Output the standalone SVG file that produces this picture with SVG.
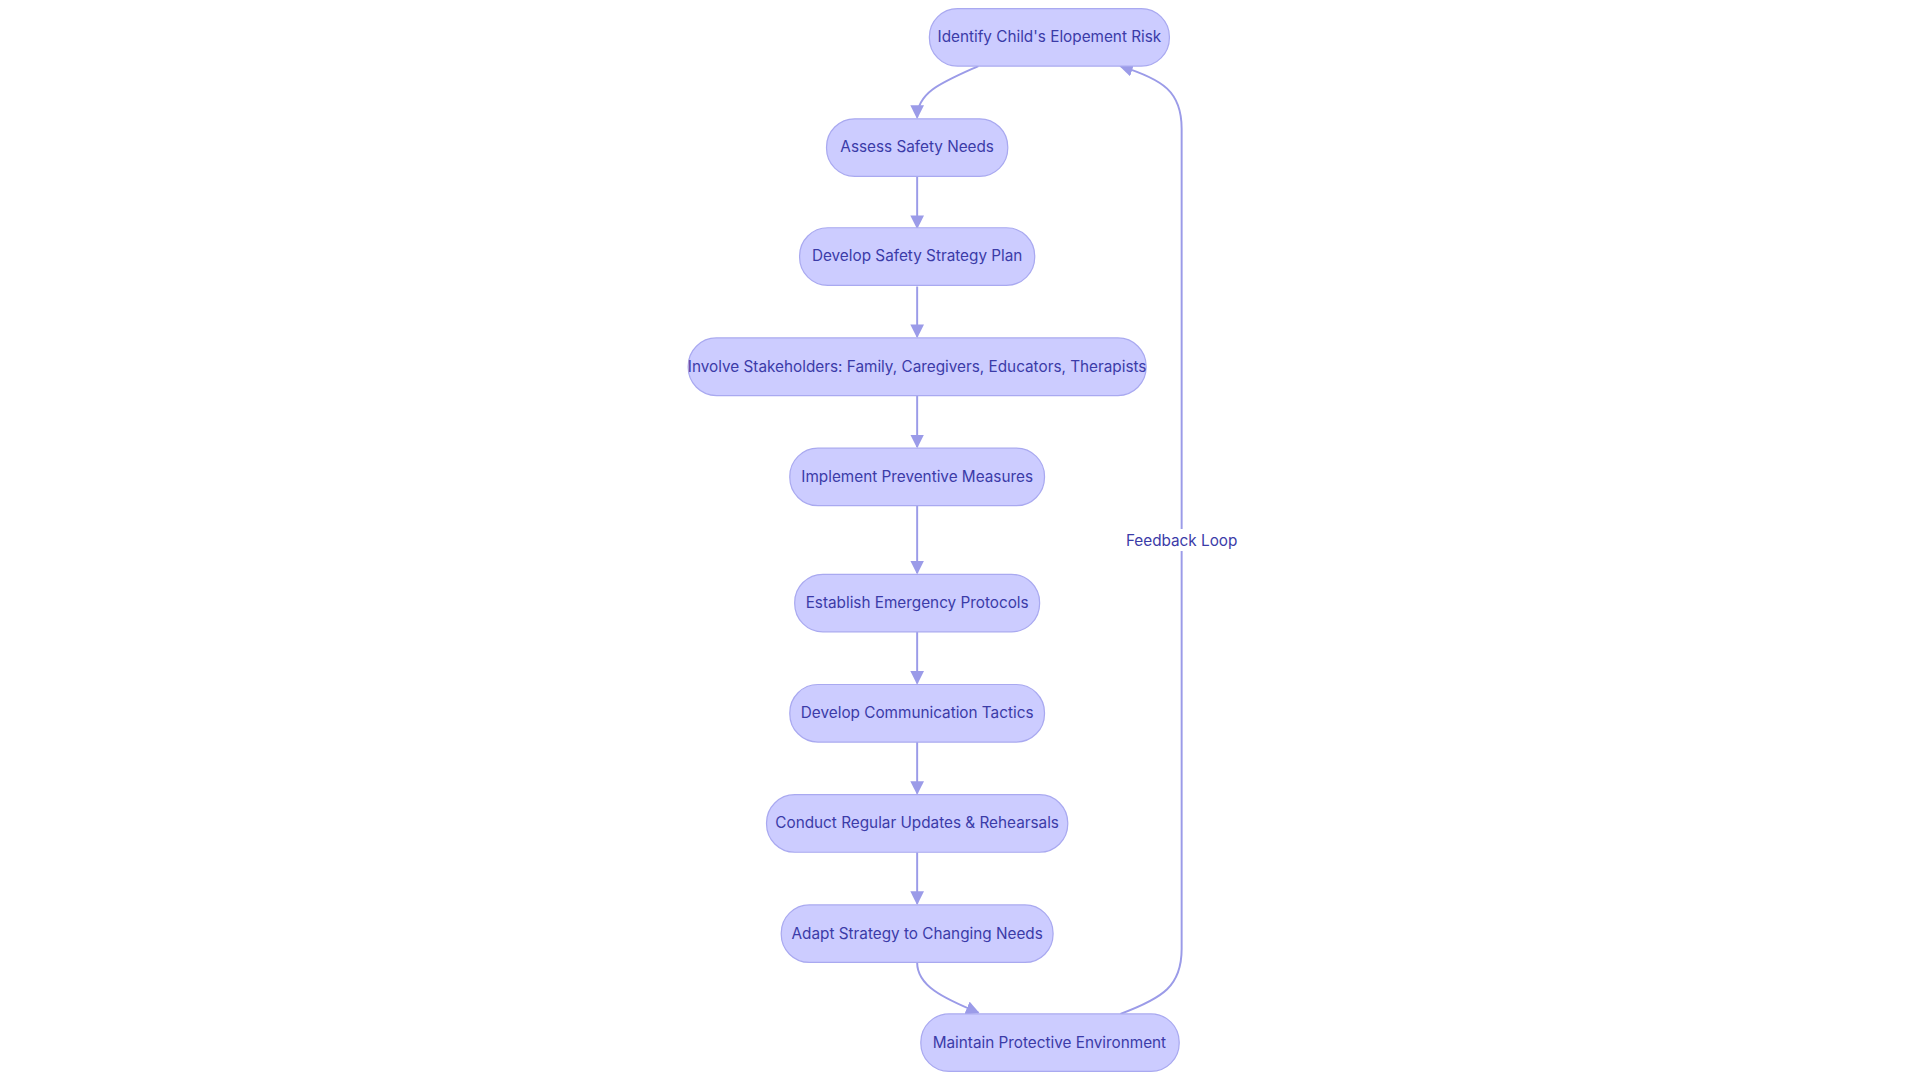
<svg xmlns="http://www.w3.org/2000/svg" width="1920" height="1080" viewBox="0 0 1920 1080">
<style>
.n rect{fill:#ccccff;stroke:#a9a9f0;stroke-width:1}
.n text,.l{font-family:Inter,"Noto Sans",sans-serif;font-size:12.5px;fill:#3b3ba8;text-anchor:middle;dominant-baseline:central}
.e{fill:none;stroke:#9b9be8;stroke-width:1.6}
</style>
<defs><marker id="a" viewBox="0 0 10 10" refX="9" refY="5" markerWidth="7" markerHeight="7" orient="auto-start-reverse"><path d="M0,0L10,5L0,10z" fill="#9b9be8"/></marker></defs>
<rect width="1920" height="1080" fill="#fff"/>
<g transform="scale(1.2245)">
<g id="connectors">
<path class="e" marker-end="url(#a)" d="M799,54 C770,67 749,75 749,96"/>
<path class="e" marker-end="url(#a)" d="M749,144V186"/>
<path class="e" marker-end="url(#a)" d="M749,234V275"/>
<path class="e" marker-end="url(#a)" d="M749,323V365"/>
<path class="e" marker-end="url(#a)" d="M749,413V468"/>
<path class="e" marker-end="url(#a)" d="M749,516V558"/>
<path class="e" marker-end="url(#a)" d="M749,606V648"/>
<path class="e" marker-end="url(#a)" d="M749,696V738"/>
<path class="e" marker-end="url(#a)" d="M749,786 C749,805 770,815 799,827"/>
<path class="e" marker-end="url(#a)" d="M915,828 C950,815 965,805 965,775 V105 C965,75 950,65 915,54"/>
<rect x="922" y="432" width="86" height="18" fill="#fff"/>
<text class="l" x="965" y="441">Feedback Loop</text>
</g>
<g id="n1" class="n"><rect x="759" y="7" width="196" height="47" rx="23"/><text x="857" y="30">Identify Child's Elopement Risk</text></g>
<g id="n2" class="n"><rect x="675" y="97" width="148" height="47" rx="23"/><text x="749" y="120">Assess Safety Needs</text></g>
<g id="n3" class="n"><rect x="653" y="186" width="192" height="47" rx="23"/><text x="749" y="209">Develop Safety Strategy Plan</text></g>
<g id="n4" class="n"><rect x="562" y="276" width="374" height="47" rx="23"/><text x="749" y="299">Involve Stakeholders: Family, Caregivers, Educators, Therapists</text></g>
<g id="n5" class="n"><rect x="645" y="366" width="208" height="47" rx="23"/><text x="749" y="389">Implement Preventive Measures</text></g>
<g id="n6" class="n"><rect x="649" y="469" width="200" height="47" rx="23"/><text x="749" y="492">Establish Emergency Protocols</text></g>
<g id="n7" class="n"><rect x="645" y="559" width="208" height="47" rx="23"/><text x="749" y="582">Develop Communication Tactics</text></g>
<g id="n8" class="n"><rect x="626" y="649" width="246" height="47" rx="23"/><text x="749" y="672">Conduct Regular Updates &amp; Rehearsals</text></g>
<g id="n9" class="n"><rect x="638" y="739" width="222" height="47" rx="23"/><text x="749" y="762">Adapt Strategy to Changing Needs</text></g>
<g id="n10" class="n"><rect x="752" y="828" width="211" height="47" rx="23"/><text x="857" y="851">Maintain Protective Environment</text></g>
</g>
</svg>
